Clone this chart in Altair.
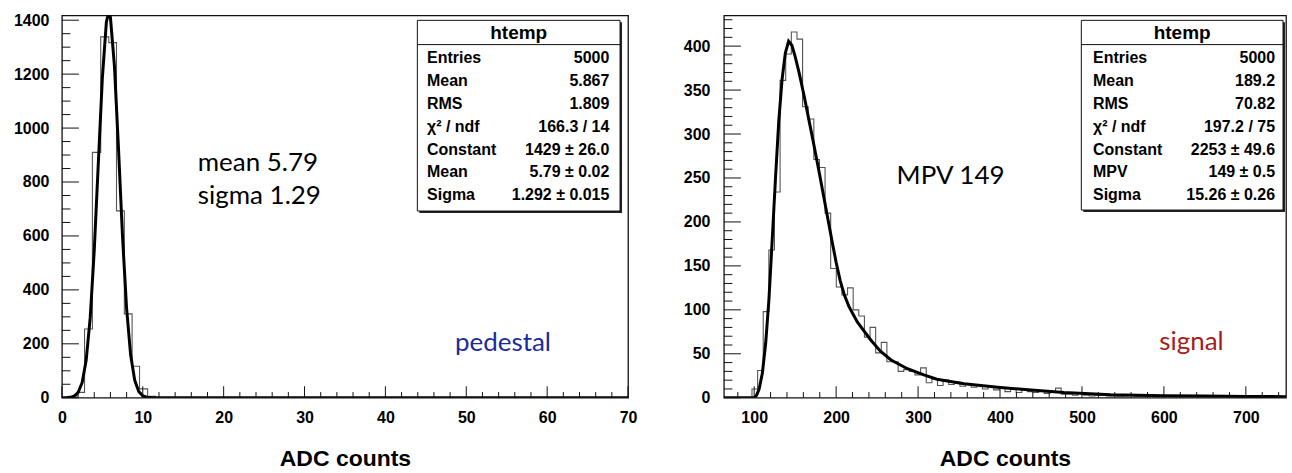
import altair as alt
import pandas as pd

# ---------------- pedestal panel data ----------------
ped_bin_edges = [0.0, 1.85, 2.8, 3.77, 4.8, 5.8, 6.75, 7.72, 8.68, 9.6, 10.6, 11.55, 70.0]
ped_bin_counts = [0, 20, 255, 910, 1338, 1317, 693, 311, 117, 33, 5, 0]
ped_fit_x = [0, 0.5, 1, 1.5, 2, 2.5, 3, 3.5, 4, 4.5, 5, 5.5, 5.79, 6, 6.5, 7, 7.5, 8,
             8.5, 9, 9.5, 10, 10.5, 11, 12, 70]
ped_fit_y = [0.06, 0.33, 1.5, 5.8, 19.3, 55.8, 138.8, 297.1, 547.3, 868.1, 1185.4, 1393.4,
             1429, 1410.3, 1228.8, 921.7, 595.2, 330.9, 158.4, 65.3, 23.1, 7.1, 1.9, 0.4, 0.0, 0.0]
ped_x_labels = [0, 10, 20, 30, 40, 50, 60, 70]
ped_x_minor = [v for v in range(2, 70, 2) if v % 10]
ped_y_labels = [0, 200, 400, 600, 800, 1000, 1200, 1400]
ped_y_minor = [v for v in range(50, 1401, 50) if v % 200]
ped_stat_names = ["Entries", "Mean", "RMS", "χ² / ndf", "Constant", "Mean", "Sigma"]
ped_stat_values = ["5000", "5.867", "1.809", "166.3 / 14", "1429 ± 26.0", "5.79 ± 0.02",
                   "1.292 ± 0.015"]

# ---------------- signal panel data ----------------
sig_lo = 63.0
sig_width = 6.86
sig_counts = [0, 0, 0, 0, 0, 10, 31, 98, 168, 234,
              361, 391, 416, 408, 331, 317, 271, 262, 210, 147,
              126, 117, 125, 100, 93, 69, 80, 51, 63, 41,
              41, 30, 32, 30, 26, 34, 17, 21, 14, 20,
              15, 18, 13, 16, 12, 14, 10, 13, 9, 11,
              7, 10, 6, 9, 7, 6, 8, 5, 6, 11,
              4, 4, 3, 5, 3, 2, 3, 3, 2, 2,
              1, 2, 3, 1, 2, 1, 1, 2, 0, 1,
              2, 1, 0, 1, 1, 0, 2, 1, 0, 1,
              0, 1, 1, 0, 0, 1, 0, 1, 0, 0]
sig_fit_x = [63, 100, 103, 106, 110, 114, 118, 122, 126, 130, 134, 138, 142, 146, 150, 155,
             161, 167, 173, 179, 185, 190, 195, 200, 205, 210, 216, 226, 242, 254, 267, 287,
             307, 323, 356, 397, 438, 478, 535, 600, 650, 700, 749]
sig_fit_y = [0, 0, 3, 10, 28, 62, 112, 180, 250, 315, 362, 392, 405.5, 401, 388, 369,
             343, 315, 287, 258, 228, 203, 178, 154, 133, 117, 103, 86, 66, 53, 43, 33,
             26, 21, 16, 12, 8.8, 6, 3.5, 2.4, 1.9, 1.5, 1.2]
sig_x_labels = [100, 200, 300, 400, 500, 600, 700]
sig_x_minor = [v for v in range(80, 750, 20) if v % 100]
sig_y_labels = [0, 50, 100, 150, 200, 250, 300, 350, 400]
sig_y_minor = [v for v in range(10, 431, 10) if v % 50]
sig_stat_names = ["Entries", "Mean", "RMS", "χ² / ndf", "Constant", "MPV", "Sigma"]
sig_stat_values = ["5000", "189.2", "70.82", "197.2 / 75", "2253 ± 49.6", "149 ± 0.5",
                   "15.26 ± 0.26"]

LABEL_FONT = "Liberation Sans"
NOTE_FONT = "Lato"
H = 383
one = pd.DataFrame({"d": [0]})


def hist_frame(edges, counts):
    xs = list(edges[:-1]) + [edges[-1]]
    ys = list(counts) + [counts[-1]]
    return pd.DataFrame({"x": xs, "y": ys})


def panel(hist_df, fit_df, xdom, ydom, xlabels, xminor, ylabels, yminor, W,
          yext, ylabpad, names, values, box, notes):
    xs = alt.Scale(domain=xdom, nice=False, zero=False)
    ys = alt.Scale(domain=ydom, nice=False, zero=False)
    hist = alt.Chart(hist_df).mark_line(
        interpolate="step-after", color="#555555", strokeWidth=1.1, clip=True
    ).encode(
        x=alt.X("x:Q", scale=xs, axis=alt.Axis(values=xlabels, title="ADC counts",
                                               labelPadding=12, titlePadding=22,
                                               labelFlush=False, format="d")),
        y=alt.Y("y:Q", scale=ys, axis=alt.Axis(values=ylabels, title=None,
                                               labelPadding=ylabpad, minExtent=yext,
                                               maxExtent=yext, format="d")),
    )
    fit = alt.Chart(fit_df).mark_line(color="black", strokeWidth=3, clip=True).encode(
        x="x:Q", y="y:Q")
    layers = [hist, fit]
    for vals, ln in ((xlabels, 11.5), (xminor, 5.7)):
        layers.append(alt.Chart(pd.DataFrame({"x": vals})).mark_rule(
            color="#111111", strokeWidth=1).encode(
            x="x:Q", y=alt.value(H), y2=alt.value(H - ln)))
    for vals, ln in ((ylabels, 17), (yminor, 8.5)):
        layers.append(alt.Chart(pd.DataFrame({"y": vals})).mark_rule(
            color="#111111", strokeWidth=1).encode(
            y="y:Q", x=alt.value(0), x2=alt.value(ln)))
    bx0, bx1, by0, by1, namex, valx = box
    layers.append(alt.Chart(one).mark_rect(color="#222222").encode(
        x=alt.value(bx0 + 2), x2=alt.value(bx1 + 2), y=alt.value(by0 + 2), y2=alt.value(by1 + 2)))
    layers.append(alt.Chart(one).mark_rect(fill="white", stroke="#111111", strokeWidth=1).encode(
        x=alt.value(bx0), x2=alt.value(bx1), y=alt.value(by0), y2=alt.value(by1)))
    layers.append(alt.Chart(one).mark_rule(color="#111111", strokeWidth=1).encode(
        x=alt.value(bx0), x2=alt.value(bx1), y=alt.value(by0 + 24.3)))
    layers.append(alt.Chart(one).mark_text(
        text="htemp", font=LABEL_FONT, fontWeight="bold", fontSize=19, align="center",
        baseline="middle", color="black").encode(
        x=alt.value((bx0 + bx1) / 2), y=alt.value(by0 + 12.7)))
    for i, (n, v) in enumerate(zip(names, values)):
        yy = by0 + 37.7 + 22.93 * i
        layers.append(alt.Chart(one).mark_text(
            text=n, font=LABEL_FONT, fontWeight="bold", fontSize=16, align="left",
            baseline="middle", color="black").encode(x=alt.value(namex), y=alt.value(yy)))
        layers.append(alt.Chart(one).mark_text(
            text=v, font=LABEL_FONT, fontWeight="bold", fontSize=16, align="right",
            baseline="middle", color="black").encode(x=alt.value(valx), y=alt.value(yy)))
    for txt, nx, ny, col in notes:
        layers.append(alt.Chart(one).mark_text(
            text=txt, font=NOTE_FONT, fontSize=26, align="left", baseline="alphabetic",
            color=col).encode(x=alt.datum(nx), y=alt.datum(ny)))
    return alt.layer(*layers).properties(width=W, height=H)


sig_edges = [sig_lo + sig_width * i for i in range(len(sig_counts) + 1)]

left = panel(
    hist_frame(ped_bin_edges, ped_bin_counts),
    pd.DataFrame({"x": ped_fit_x, "y": ped_fit_y}),
    [0, 70], [0, 1418], ped_x_labels, ped_x_minor, ped_y_labels, ped_y_minor, 567,
    61, 13, ped_stat_names, ped_stat_values,
    (356, 559, 5, 196, 365.7, 548.3),
    [("mean 5.79", 16.8, 840, "black"), ("sigma 1.29", 16.8, 718, "black"),
     ("pedestal", 48.6, 174, "#1c2a9c")],
)
right = panel(
    hist_frame(sig_edges, sig_counts),
    pd.DataFrame({"x": sig_fit_x, "y": sig_fit_y}),
    [63, 749], [0, 435], sig_x_labels, sig_x_minor, sig_y_labels, sig_y_minor, 563,
    45, 14, sig_stat_names, sig_stat_values,
    (358, 560, 5, 195, 369.7, 552),
    [("MPV 149", 273.8, 243, "black"), ("signal", 594.3, 54.5, "#a51b1b")],
)

chart = alt.hconcat(left, right, spacing=40).properties(
    padding={"left": 0, "top": 11, "right": 5, "bottom": 0}
).configure_view(stroke="#111111", strokeWidth=1.3).configure_axis(
    labelFont=LABEL_FONT, labelFontWeight="bold", labelFontSize=16, labelColor="black",
    titleFont=LABEL_FONT, titleFontWeight="bold", titleFontSize=23, titleColor="black",
    domain=False, ticks=False, tickSize=0, grid=False,
)

chart.save("out.html", embed_options={"renderer": "svg", "actions": False})
